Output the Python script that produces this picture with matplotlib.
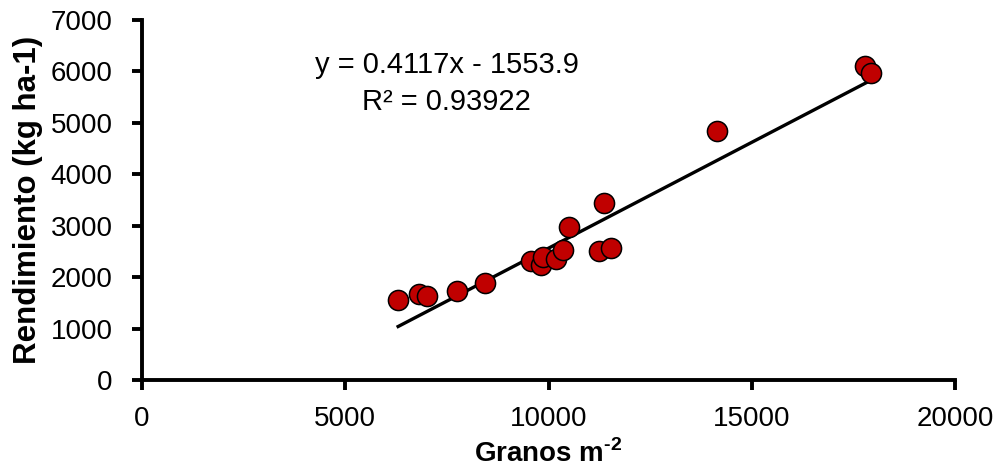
import numpy as np
import matplotlib
matplotlib.use('Agg')
import matplotlib.pyplot as plt

plt.rcParams['font.family'] = ['Liberation Sans', 'DejaVu Sans']
plt.rcParams['mathtext.fontset'] = 'custom'
plt.rcParams['mathtext.rm'] = 'Liberation Sans'
plt.rcParams['mathtext.bf'] = 'Liberation Sans:bold'

# granos m-2 vs rendimiento (kg ha-1)
granos = [6300, 6810, 7010, 7750, 8440, 9570, 9815, 9865, 10185, 10360,
          10500, 11240, 11540, 11365, 14145, 17790, 17935]
rend = [1555, 1670, 1635, 1730, 1885, 2315, 2235, 2390, 2355, 2530,
        2975, 2510, 2565, 3440, 4840, 6105, 5970]
slope, intercept = 0.4117, -1553.9
r2 = 0.93922

fig = plt.figure(figsize=(10.03, 4.76), dpi=100)
ax = fig.add_axes([0.1416, 0.2017, 0.8106, 0.7563])

xl = np.array([min(granos), max(granos)])
ax.plot(xl, slope*xl+intercept, 'k-', lw=2.4, zorder=2)
ax.scatter(granos, rend, s=210, c='#C00000', edgecolors='black', linewidths=1.1, zorder=3)

ax.set_xlim(0, 20000)
ax.set_ylim(0, 7000)
ax.set_xticks([0, 5000, 10000, 15000, 20000])
ax.set_yticks(range(0, 7001, 1000))
for s in ['top', 'right']:
    ax.spines[s].set_visible(False)
for s in ['left', 'bottom']:
    ax.spines[s].set_linewidth(2.8)
ax.tick_params(direction='out', length=7, width=2.8, labelsize=20)
ax.tick_params(axis='y', pad=14)
ax.tick_params(axis='x', pad=12)

ax.set_xlabel('Granos m$^{\\mathbf{\u20102}}$', fontsize=20, fontweight='bold', labelpad=5)
ax.set_ylabel('Rendimiento (kg ha-1)', fontsize=22.5, fontweight='bold', labelpad=6)

ax.text(7500, 6120, 'y = 0.4117x - 1553.9', fontsize=21, ha='center', va='center')
ax.text(7500, 5400, 'R² = 0.93922', fontsize=21, ha='center', va='center')

fig.savefig('out.png', dpi=100)
